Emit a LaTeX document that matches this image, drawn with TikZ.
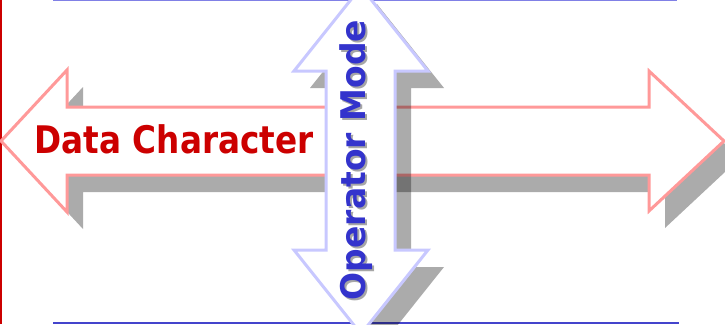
\documentclass[tikz,border=0pt]{standalone}
\usepackage{fontspec}
\newfontfamily\lblfont{DejaVu Sans}
\definecolor{pinkline}{HTML}{FF9999}
\definecolor{lavline}{HTML}{C8C8FF}
\definecolor{txtred}{HTML}{CC0000}
\definecolor{txtblue}{HTML}{3333CC}
\definecolor{topline}{HTML}{8080E6}
\definecolor{botline}{HTML}{4444CC}
\begin{document}
\begin{tikzpicture}[x=1pt,y=-1pt,
  harrow/.style={draw=pinkline,line width=3pt,fill=white,line join=miter},
  varrow/.style={draw=lavline,line width=3pt,fill=white,line join=miter},
  shadowfill/.style={fill=black,fill opacity=0.33,draw=none},
  lbl/.style={inner sep=0pt,font=\lblfont\bfseries}]
\useasboundingbox (0,0) rectangle (725,324);
% frame lines
\draw[txtred,line width=2pt] (1,0) -- (1,324);
\draw[topline,line width=1.5pt] (53,0.5) -- (677,0.5);
\draw[botline,line width=2pt] (53,322.5) -- (679,322.5);
\def\hpath{(1,141) -- (67,70) -- (67,107) -- (649,107) -- (649,71) -- (724,141) -- (649,211) -- (649,175) -- (67,175) -- (67,212) -- cycle}
\def\vpath{(361,-13) -- (428,71) -- (395,71) -- (395,250) -- (428,250) -- (361,334) -- (294,250) -- (326,250) -- (326,71) -- (294,71) -- cycle}
% horizontal arrow shadow and arrow
\fill[shadowfill,shift={(16pt,-17pt)}] \hpath;
\path[harrow] \hpath;
% vertical arrow shadow and arrow
\fill[shadowfill,shift={(16pt,-17pt)}] \vpath;
\path[varrow] \vpath;
% labels
\node[lbl,anchor=base,text=txtred] (dc) at (174,153)
  {\fontsize{38}{40}\selectfont\scalebox{0.86}[1]{Data Character}};
\node[lbl,anchor=base,rotate=90,text=gray!70] (oms) at (367,162)
  {\fontsize{34}{36}\selectfont\scalebox{0.97}[1]{Operator Mode}};
\node[lbl,anchor=base,rotate=90,text=txtblue] (om) at (365,160)
  {\fontsize{34}{36}\selectfont\scalebox{0.97}[1]{Operator Mode}};
\end{tikzpicture}
\end{document}
